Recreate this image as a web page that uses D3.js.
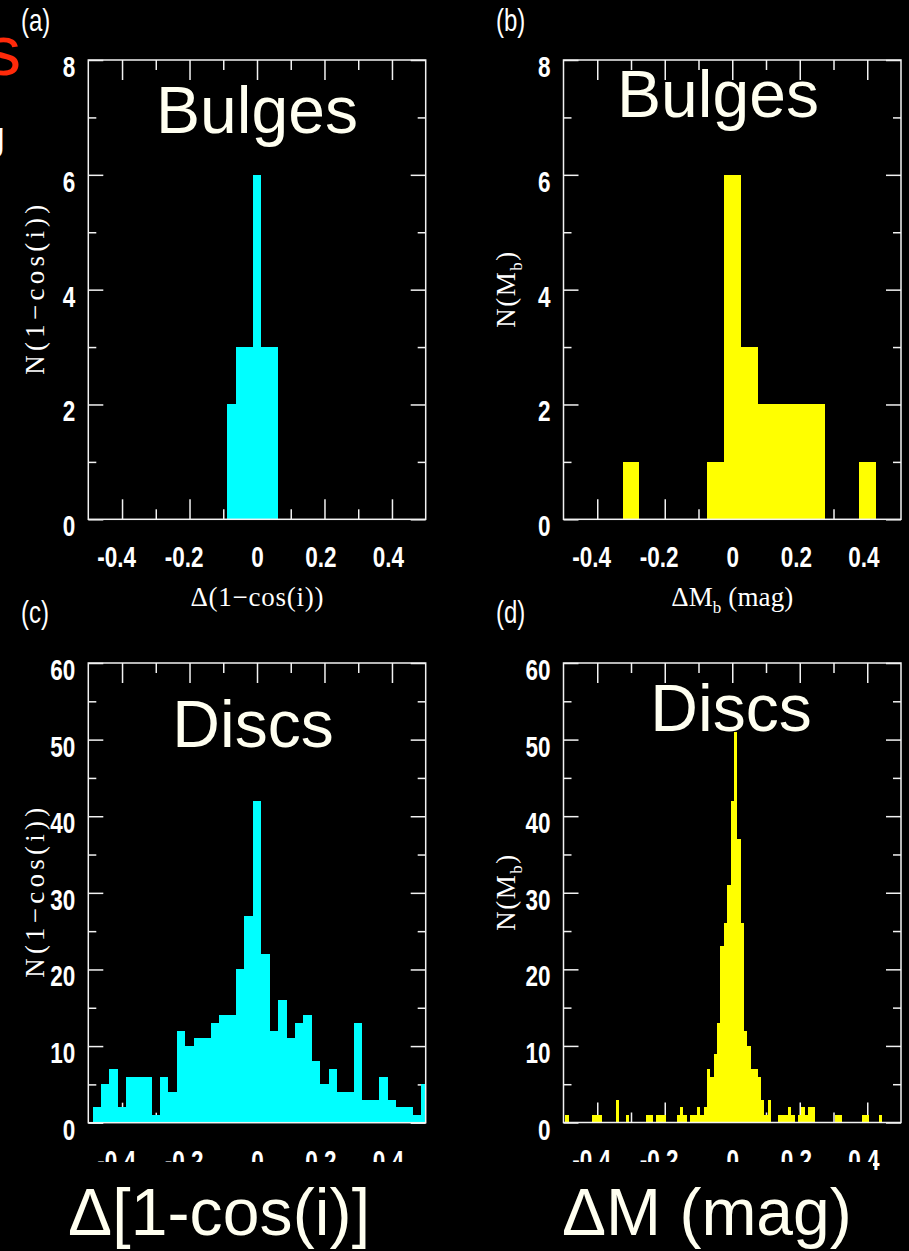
<!DOCTYPE html>
<html>
<head>
<meta charset="utf-8">
<script src="https://cdn.jsdelivr.net/npm/d3@7"></script>
<style>
  html, body { margin: 0; padding: 0; background: #000; }
  svg { display: block; }
</style>
</head>
<body>
<svg id="chart" width="909" height="1251"></svg>
<script>
// ---- tick positions and labels -------------------------------------------
const xMajorTicks = [-0.4, -0.2, 0, 0.2, 0.4];
const xMinorTicks = [-0.3, -0.1, 0.1, 0.3];
const xTickLabels = ["-0.4", "-0.2", "0", "0.2", "0.4"];

const bulgeYMajor = [0, 2, 4, 6, 8];
const bulgeYMinor = [1, 3, 5, 7];
const bulgeYLabels = ["0", "2", "4", "6", "8"];

const discYMajor = [0, 10, 20, 30, 40, 50, 60];
const discYMinor = [5, 15, 25, 35, 45, 55];
const discYLabels = ["0", "10", "20", "30", "40", "50", "60"];

// ---- (a) bulges: Δ(1−cos i), bins 0.025 wide (bin centres / counts) -------
const bulgeInclBins   = [-0.075, -0.05, -0.025, 0, 0.025, 0.05];
const bulgeInclCounts = [2, 3, 3, 6, 3, 3];

// ---- (b) bulges: ΔM_b, bins 0.05 wide -------------------------------------
const bulgeMagBins   = [-0.3, -0.05, 0, 0.05, 0.1, 0.15, 0.2, 0.25, 0.4];
const bulgeMagCounts = [1, 1, 6, 3, 2, 2, 2, 2, 1];

// ---- (c) discs: Δ(1−cos i), bins 0.025 wide -------------------------------
const discInclBins = [
  -0.475, -0.45, -0.425, -0.4, -0.375, -0.35, -0.325, -0.3, -0.275, -0.25,
  -0.225, -0.2, -0.175, -0.15, -0.125, -0.1, -0.075, -0.05, -0.025, 0,
  0.025, 0.05, 0.075, 0.1, 0.125, 0.15, 0.175, 0.2, 0.225, 0.25,
  0.275, 0.3, 0.325, 0.35, 0.375, 0.4, 0.425, 0.45, 0.475, 0.5
];
const discInclCounts = [
  2, 5, 7, 2, 6, 6, 6, 1, 6, 4,
  12, 10, 11, 11, 13, 14, 14, 20, 27, 42,
  22, 12, 16, 11, 13, 14, 8, 5, 7, 4,
  4, 13, 3, 3, 6, 3, 2, 2, 1, 5
];

// ---- (d) discs: ΔM, bins 0.01 wide (empty bins omitted) -------------------
const discMagBins = [
  -0.49, -0.41, -0.40, -0.39, -0.34, -0.31, -0.25, -0.24, -0.22, -0.21,
  -0.20, -0.16, -0.15, -0.14, -0.12, -0.11, -0.10, -0.09, -0.08, -0.07,
  -0.06, -0.05, -0.04, -0.03, -0.02, -0.01, 0.00, 0.01, 0.02, 0.03,
  0.04, 0.05, 0.06, 0.07, 0.08, 0.09, 0.10, 0.11, 0.14, 0.15,
  0.16, 0.17, 0.18, 0.20, 0.21, 0.22, 0.23, 0.24, 0.31, 0.32,
  0.39, 0.40, 0.44
];
const discMagCounts = [
  1, 1, 1, 1, 3, 1, 1, 1, 1, 1,
  1, 1, 2, 1, 1, 1, 2, 1, 2, 7,
  6, 9, 13, 23, 26, 31, 42, 51, 37, 26,
  12, 10, 7, 7, 6, 3, 1, 3, 1, 1,
  1, 2, 1, 1, 2, 1, 2, 2, 1, 1,
  1, 1, 1
];

// ---- panel set-up ---------------------------------------------------------
const svg = d3.select("#chart");
svg.append("rect").attr("width", 909).attr("height", 1251).attr("fill", "#000");

const CYAN = "#00ffff", YELLOW = "#ffff00", INK = "#f2f2f2", IVORY = "#fffff0";
const TICK_FONT = "'Liberation Sans', Arial, sans-serif";
const SERIF = "'Liberation Serif', 'Times New Roman', serif";
const SX = 0.75; // horizontal squeeze for the condensed plot lettering

const panels = [
  { id: "a", left: 88.3, right: 425.7, top: 60, bottom: 519.3,
    yMax: 8, yMajor: bulgeYMajor, yMinor: bulgeYMinor, yLabels: bulgeYLabels,
    bins: bulgeInclBins, counts: bulgeInclCounts, binWidth: 0.025, color: CYAN,
    tag: "(a)", tagX: 21, tagY: 31,
    title: "Bulges", titleX: 257, titleY: 133,
    xlabel: [{ t: "Δ(1−cos(i))" }], xlabelLen: 133,
    ylabel: [{ t: "N(1−cos(i))" }], ylabelLen: 170, ylabelX: 44 },
  { id: "b", left: 563.5, right: 901, top: 60, bottom: 519.3,
    yMax: 8, yMajor: bulgeYMajor, yMinor: bulgeYMinor, yLabels: bulgeYLabels,
    bins: bulgeMagBins, counts: bulgeMagCounts, binWidth: 0.05, color: YELLOW,
    tag: "(b)", tagX: 496, tagY: 31,
    title: "Bulges", titleX: 718, titleY: 117,
    xlabel: [{ t: "ΔM" }, { t: "b", sub: true }, { t: " (mag)" }], xlabelLen: 122,
    ylabel: [{ t: "N(M" }, { t: "b", sub: true }, { t: ")" }], ylabelLen: 76, ylabelX: 515 },
  { id: "c", left: 88.3, right: 425.7, top: 663, bottom: 1122.7,
    yMax: 60, yMajor: discYMajor, yMinor: discYMinor, yLabels: discYLabels,
    bins: discInclBins, counts: discInclCounts, binWidth: 0.025, color: CYAN,
    tag: "(c)", tagX: 21, tagY: 623,
    title: "Discs", titleX: 253, titleY: 747,
    xlabel: null,
    ylabel: [{ t: "N(1−cos(i))" }], ylabelLen: 170, ylabelX: 44 },
  { id: "d", left: 563.5, right: 901, top: 663, bottom: 1122.5,
    yMax: 60, yMajor: discYMajor, yMinor: discYMinor, yLabels: discYLabels,
    bins: discMagBins, counts: discMagCounts, binWidth: 0.01, color: YELLOW,
    tag: "(d)", tagX: 496, tagY: 623,
    title: "Discs", titleX: 731, titleY: 731,
    xlabel: null,
    ylabel: [{ t: "N(M" }, { t: "b", sub: true }, { t: ")" }], ylabelLen: 76, ylabelX: 515 }
];

function styleTicks(sel) {
  sel.select(".domain").remove();
  sel.selectAll("line").attr("stroke", INK).attr("stroke-width", 1.5);
}

function addRuns(textSel, runs, subSize) {
  let shifted = false;
  runs.forEach(r => {
    const ts = textSel.append("tspan").text(r.t);
    if (r.sub && !shifted) { ts.attr("font-size", subSize).attr("dy", 7); shifted = true; }
    else if (!r.sub && shifted) { ts.attr("dy", -7); shifted = false; }
  });
}

function drawPanel(p) {
  const x = d3.scaleLinear().domain([-0.5, 0.5]).range([p.left, p.right]);
  const y = d3.scaleLinear().domain([0, p.yMax]).range([p.bottom, p.top]);
  const g = svg.append("g").attr("class", "panel-" + p.id);

  // inward-pointing ticks on all four sides
  const ticks = g.append("g");
  ticks.append("g").attr("transform", `translate(0,${p.bottom})`)
    .call(d3.axisTop(x).tickValues(xMajorTicks).tickSize(20).tickFormat("")).call(styleTicks);
  ticks.append("g").attr("transform", `translate(0,${p.bottom})`)
    .call(d3.axisTop(x).tickValues(xMinorTicks).tickSize(10).tickFormat("")).call(styleTicks);
  ticks.append("g").attr("transform", `translate(0,${p.top})`)
    .call(d3.axisBottom(x).tickValues(xMajorTicks).tickSize(20).tickFormat("")).call(styleTicks);
  ticks.append("g").attr("transform", `translate(0,${p.top})`)
    .call(d3.axisBottom(x).tickValues(xMinorTicks).tickSize(10).tickFormat("")).call(styleTicks);
  ticks.append("g").attr("transform", `translate(${p.left},0)`)
    .call(d3.axisRight(y).tickValues(p.yMajor).tickSize(15).tickFormat("")).call(styleTicks);
  ticks.append("g").attr("transform", `translate(${p.left},0)`)
    .call(d3.axisRight(y).tickValues(p.yMinor).tickSize(8).tickFormat("")).call(styleTicks);
  ticks.append("g").attr("transform", `translate(${p.right},0)`)
    .call(d3.axisLeft(y).tickValues(p.yMajor).tickSize(15).tickFormat("")).call(styleTicks);
  ticks.append("g").attr("transform", `translate(${p.right},0)`)
    .call(d3.axisLeft(y).tickValues(p.yMinor).tickSize(8).tickFormat("")).call(styleTicks);

  // histogram bars
  svg.append("clipPath").attr("id", "clip-" + p.id)
    .append("rect").attr("x", p.left).attr("y", p.top)
    .attr("width", p.right - p.left).attr("height", p.bottom - p.top);
  const bars = p.bins.map((c, i) => ({ c, n: p.counts[i] }));
  g.append("g").attr("clip-path", `url(#clip-${p.id})`)
    .selectAll("rect").data(bars).join("rect")
    .attr("x", d => x(d.c - p.binWidth / 2))
    .attr("width", d => x(d.c + p.binWidth / 2) - x(d.c - p.binWidth / 2))
    .attr("y", d => y(d.n))
    .attr("height", d => y(0) - y(d.n))
    .attr("fill", p.color)
    .attr("shape-rendering", "crispEdges");

  // frame
  g.append("rect").attr("x", p.left).attr("y", p.top)
    .attr("width", p.right - p.left).attr("height", p.bottom - p.top)
    .attr("fill", "none").attr("stroke", INK).attr("stroke-width", 1.5);

  // x tick labels
  const xl = g.append("g").attr("transform", `translate(0,${p.bottom})`)
    .call(d3.axisBottom(x).tickValues(xMajorTicks).tickSize(0)
      .tickFormat((d, i) => xTickLabels[i]));
  xl.select(".domain").remove();
  xl.attr("font-family", TICK_FONT).attr("font-size", 30).attr("font-weight", "bold");
  xl.selectAll("text")
    .attr("fill", "#fff").attr("y", 48).attr("dy", null)
    .attr("dx", d => (d < 0 ? -6 : d > 0 ? -4 : 0) / SX)
    .attr("transform", `scale(${SX},1)`);

  // y tick labels
  const yl = g.append("g").attr("transform", `translate(${p.left},0)`)
    .call(d3.axisLeft(y).tickValues(p.yMajor).tickSize(0)
      .tickFormat((d, i) => p.yLabels[i]));
  yl.select(".domain").remove();
  yl.attr("font-family", TICK_FONT).attr("font-size", 30).attr("font-weight", "bold");
  yl.selectAll("text")
    .attr("fill", "#fff").attr("x", -13 / SX).attr("y", 16.5).attr("dy", null)
    .attr("text-anchor", "end")
    .attr("transform", `scale(${SX},1)`);

  // panel tag
  g.append("g").attr("transform", `translate(${p.tagX},${p.tagY})`)
    .append("text").attr("transform", `scale(${SX},1)`)
    .attr("font-family", TICK_FONT).attr("font-size", 32).attr("fill", "#fff")
    .text(p.tag);

  // big in-panel title
  g.append("text").attr("x", p.titleX).attr("y", p.titleY)
    .attr("text-anchor", "middle").attr("font-family", TICK_FONT)
    .attr("font-size", 66).attr("fill", IVORY).text(p.title);

  // axis titles
  if (p.xlabel) {
    const t = g.append("text").attr("x", (p.left + p.right) / 2).attr("y", 606)
      .attr("text-anchor", "middle").attr("font-family", SERIF)
      .attr("font-size", 27).attr("fill", "#fff")
      .attr("textLength", p.xlabelLen).attr("lengthAdjust", "spacing");
    addRuns(t, p.xlabel, 17);
  }
  const yt = g.append("text")
    .attr("transform", `translate(${p.ylabelX},${(p.top + p.bottom) / 2}) rotate(-90)`)
    .attr("text-anchor", "middle").attr("font-family", SERIF)
    .attr("font-size", 27).attr("fill", "#fff")
    .attr("textLength", p.ylabelLen).attr("lengthAdjust", "spacing");
  addRuns(yt, p.ylabel, 17);
}

panels.forEach(drawPanel);

// bottom captions sit on black boxes that hide the lower part of the tick labels
svg.append("rect").attr("x", 40).attr("y", 1162).attr("width", 378).attr("height", 89).attr("fill", "#000");
svg.append("rect").attr("x", 548).attr("y", 1162).attr("width", 325).attr("height", 89).attr("fill", "#000");
svg.append("text").attr("x", 68).attr("y", 1235)
  .attr("font-family", TICK_FONT).attr("font-size", 66).attr("fill", IVORY)
  .attr("textLength", 302).attr("lengthAdjust", "spacing")
  .text("Δ[1-cos(i)]");
svg.append("text").attr("x", 562).attr("y", 1235)
  .attr("font-family", TICK_FONT).attr("font-size", 66).attr("fill", IVORY)
  .text("ΔM (mag)");

// slide lettering running in from the left edge
svg.append("text").attr("x", 21).attr("y", 75).attr("text-anchor", "end")
  .attr("font-family", TICK_FONT).attr("font-size", 70).attr("fill", "#ff2a0a")
  .text("s");
svg.append("text").attr("x", 5).attr("y", 150).attr("text-anchor", "end")
  .attr("font-family", TICK_FONT).attr("font-size", 40).attr("fill", "#fff")
  .text("g");
</script>
</body>
</html>
